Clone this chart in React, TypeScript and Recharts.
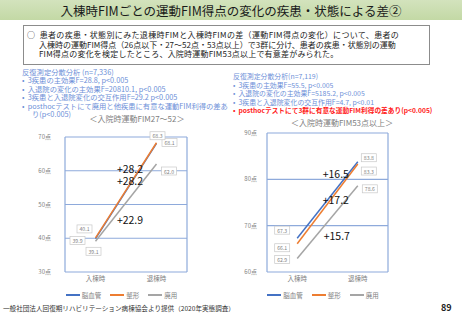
import React from 'react';
import { LineChart, Line, XAxis, YAxis, CartesianGrid, Legend, LabelList } from 'recharts';

const categories = ['入棟時', '退棟時'];
const seriesNames = ['脳血管', '整形', '廃用'];

// 入院時運動FIM27～52
const leftCerebro = [39.9, 68.1];
const leftOrtho = [40.1, 68.3];
const leftDisuse = [39.1, 62.0];
const leftTicks = [30, 40, 50, 60, 70];

// 入院時運動FIM53点以上
const rightCerebro = [67.3, 83.8];
const rightOrtho = [66.1, 83.3];
const rightDisuse = [62.9, 78.6];
const rightTicks = [60, 70, 80, 90];

const colors = ['#4472c4', '#ed7d31', '#a5a5a5'];
const FONT = '"Noto Sans CJK JP", "Noto Sans", sans-serif';
const GRID = '#8eaadb';

// label offsets (dx, dy) per series: [start, end]
const leftValueOffsets = [
  [[-18, 2], [13, -1]],
  [[-11, -9], [1, -7]],
  [[-2, 10], [12.5, 7]],
];
const leftDeltaOffsets = [[-26.5, 25.5], [-26.5, 38], [-26.5, 55.5]];
const rightValueOffsets = [
  [[-15, -8], [11, -4]],
  [[-15, 4], [11, 7]],
  [[-15, 1], [12, 3]],
];
const rightDeltaOffsets = [[-22, 12], [-22, 35.5], [-21, 50]];

const buildRows = (series: number[][]) =>
  categories.map((c, i) => {
    const row: any = { name: c };
    seriesNames.forEach((s, k) => { row[s] = series[k][i]; });
    return row;
  });

const leftData = buildRows([leftCerebro, leftOrtho, leftDisuse]);
const rightData = buildRows([rightCerebro, rightOrtho, rightDisuse]);

const ValueBox = (offsets: number[][]) => (props: any) => {
  const { x, y, value, index } = props;
  const [dx, dy] = offsets[index];
  const cx = x + dx;
  const cy = y + dy;
  return (
    <g>
      <rect x={cx - 7.5} y={cy - 4} width={15} height={8} fill="#fff" stroke="#c8c8c8" strokeWidth={0.7} />
      <text x={cx} y={cy} textAnchor="middle" dominantBaseline="central" fontSize={5.2} fill="#7f7f7f" fontFamily={FONT}>
        {Number(value).toFixed(1)}
      </text>
    </g>
  );
};

const DeltaLabel = (offset: number[], delta: number) => (props: any) => {
  const { x, y, index } = props;
  if (index !== 1) return null;
  return (
    <text x={x + offset[0]} y={y + offset[1]} textAnchor="middle" dominantBaseline="central" fontSize={10.5} fill="#111" fontFamily={FONT}>
      {`+${delta.toFixed(1)}`}
    </text>
  );
};

const makeLegend = (shift: number) => (props: any) => {
  const items = [...(props.payload || [])].sort((a: any, b: any) => seriesNames.indexOf(a.value) - seriesNames.indexOf(b.value));
  return (
    <div style={{ display: 'flex', justifyContent: 'center', alignItems: 'center', gap: 9, paddingLeft: shift, fontSize: 6.5, color: '#7f7f7f', lineHeight: '10px', whiteSpace: 'nowrap' }}>
      {items.map((it: any) => (
        <div key={it.value} style={{ display: 'flex', alignItems: 'center', gap: 2 }}>
          <div style={{ width: 14, height: 1.6, background: it.color }} />
          <span>{it.value}</span>
        </div>
      ))}
    </div>
  );
};

interface PanelProps {
  data: any[];
  series: number[][];
  ticks: number[];
  domain: [number, number];
  valueOffsets: number[][][];
  deltaOffsets: number[][];
  width: number;
  marginTop: number;
  marginRight: number;
  yWidth: number;
  tickMargin: number;
  pad: number;
}

const Panel: React.FC<PanelProps> = ({ data, series, ticks, domain, valueOffsets, deltaOffsets, width, marginTop, marginRight, yWidth, tickMargin, pad }) => (
  <LineChart width={width} height={185} data={data} margin={{ top: marginTop, right: marginRight, left: 0, bottom: 0 }} style={{ fontFamily: FONT }}>
    <CartesianGrid
      stroke={GRID}
      strokeWidth={1.2}
      verticalCoordinatesGenerator={({ offset }: any) => [offset.left, offset.left + offset.width]}
    />
    <XAxis dataKey="name" axisLine={false} tickLine={false} tickSize={0} tickMargin={4} height={16} padding={{ left: pad, right: pad }} tick={{ fontSize: 6.5, fill: '#7f7f7f' }} interval={0} />
    <YAxis domain={domain} ticks={ticks} width={yWidth} axisLine={false} tickLine={false} tickMargin={tickMargin} tick={{ fontSize: 6, fill: '#7f7f7f' }} tickFormatter={(v) => `${v}点`} />
    <Legend height={20} verticalAlign="bottom" content={makeLegend(yWidth - 9)} wrapperStyle={{ paddingTop: 2 }} />
    {seriesNames.map((s, k) => (
      <Line key={s} dataKey={s} stroke={colors[k]} strokeWidth={1.5} dot={false} isAnimationActive={false}>
        <LabelList dataKey={s} content={ValueBox(valueOffsets[k])} />
        <LabelList dataKey={s} content={DeltaLabel(deltaOffsets[k], series[k][1] - series[k][0])} />
      </Line>
    ))}
  </LineChart>
);

const statBlue = '#6d8fd8';

const App: React.FC = () => {
  const abs = (left: number, top: number): React.CSSProperties => ({ position: 'absolute', left, top, whiteSpace: 'nowrap' });
  const boxLine = (left: number, top: number): React.CSSProperties => ({ position: 'absolute', left, top, whiteSpace: 'nowrap' });
  return (
    <div style={{ position: 'absolute', left: 0, top: 0, width: 462, height: 320, background: '#fff', fontFamily: FONT, overflow: 'hidden' }}>
      <div style={{ position: 'absolute', left: 0, top: 0, width: 462, height: 20, background: 'linear-gradient(#d3e3bd, #c3d9a5)', textAlign: 'center', lineHeight: '21px', fontSize: 12.5, color: '#1a1a1a' }}>
        入棟時FIMごとの運動FIM得点の変化の疾患・状態による差②
      </div>

      <div style={{ position: 'absolute', left: 23, top: 25, width: 405, height: 38, border: '1px solid #8c8c8c', fontSize: 8, lineHeight: '9px', color: '#222' }}>
        <div style={{ ...boxLine(3, 4), letterSpacing: 0.35 }}>○&nbsp;&nbsp;患者の疾患・状態別にみた退棟時FIMと入棟時FIMの差（運動FIM得点の変化）について、患者の</div>
        <div style={boxLine(15, 13.5)}>入棟時の運動FIM得点（26点以下・27～52点・53点以上）で3群に分け、患者の疾患・状態別の運動</div>
        <div style={{ ...boxLine(15, 23), letterSpacing: 0.2 }}>FIM得点の変化を検定したところ、入院時運動FIM53点以上で有意差がみられた。</div>
      </div>

      <div style={{ ...abs(22, 68), fontSize: 7.3, lineHeight: '8.4px', color: statBlue }}>
        <div>反復測定分散分析 (n=7,336)</div>
        <div>•&nbsp;&nbsp;3疾患の主効果F=28.8, p&lt;0.005</div>
        <div>•&nbsp;&nbsp;入退院の変化の主効果F=20810.1, p&lt;0.005</div>
        <div>•&nbsp;&nbsp;3疾患と入退院変化の交互作用F=29.2 p&lt;0.005</div>
        <div>•&nbsp;&nbsp;posthocテストにて廃用と他疾患に有意な運動FIM利得の差あ</div>
        <div style={{ paddingLeft: 10 }}>り(p&lt;0.005)</div>
      </div>

      <div style={{ ...abs(233, 72), fontSize: 6.9, lineHeight: '8.6px', color: statBlue }}>
        <div>反復測定分散分析(n=7,119)</div>
        <div>•&nbsp;&nbsp;3疾患の主効果F=55.5, p&lt;0.005</div>
        <div>•&nbsp;&nbsp;入退院の変化の主効果F=5185.2, p&lt;0.005</div>
        <div>•&nbsp;&nbsp;3疾患と入退院変化の交互作用F=4.7, p&lt;0.01</div>
        <div style={{ color: '#ff1a1a', fontWeight: 600, fontSize: 6.7 }}>•&nbsp;&nbsp;posthocテストにて3群に有意な運動FIM利得の差あり(p&lt;0.005)</div>
      </div>

      <div style={{ position: 'absolute', left: 77, top: 113, width: 120, textAlign: 'center', fontSize: 8, color: '#7f7f7f' }}>＜入院時運動FIM27～52＞</div>
      <div style={{ position: 'absolute', left: 272, top: 117, width: 140, textAlign: 'center', fontSize: 8, color: '#7f7f7f' }}>＜入院時運動FIM53点以上＞</div>

      <div style={{ position: 'absolute', left: 0, top: 125 }}>
        <Panel data={leftData} series={[leftCerebro, leftOrtho, leftDisuse]} ticks={leftTicks} domain={[30, 70]}
          valueOffsets={leftValueOffsets} deltaOffsets={leftDeltaOffsets}
          width={231} marginTop={12} marginRight={44} yWidth={65} tickMargin={8} pad={30.5} />
      </div>
      <div style={{ position: 'absolute', left: 231, top: 125 }}>
        <Panel data={rightData} series={[rightCerebro, rightOrtho, rightDisuse]} ticks={rightTicks} domain={[60, 90]}
          valueOffsets={rightValueOffsets} deltaOffsets={rightDeltaOffsets}
          width={231} marginTop={8} marginRight={74} yWidth={36} tickMargin={4} pad={30.2} />
      </div>

      <div style={{ ...abs(3, 303), fontSize: 6.6, color: '#333' }}>一般社団法人回復期リハビリテーション病棟協会より提供（2020年実態調査）</div>
      <div style={{ ...abs(441, 301), fontSize: 9, fontWeight: 700, color: '#222' }}>89</div>
    </div>
  );
};

export default App;
